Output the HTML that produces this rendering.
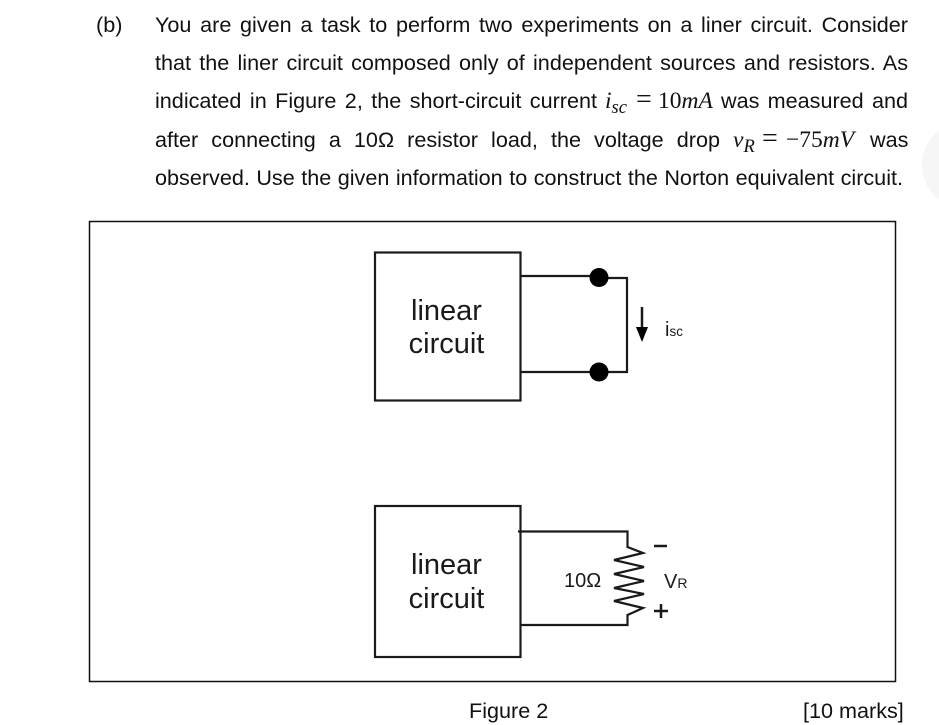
<!DOCTYPE html>
<html><head><meta charset="utf-8"><style>
html,body{margin:0;padding:0;background:#fff}
body{width:939px;height:725px;position:relative;overflow:hidden;font-family:"Liberation Sans",sans-serif;color:#111}
.t{position:absolute;font-size:21.6px;line-height:28px;white-space:nowrap}
.j{white-space:normal;text-align:justify;text-align-last:justify}
.m{font-family:"Liberation Serif",serif;font-style:italic;font-size:23.500px}
.e{font-family:"Liberation Serif",serif;font-size:28px}
svg{position:absolute;left:0;top:0}
svg text{font-family:"Liberation Sans",sans-serif;fill:#1a1a1a}
</style></head><body>
<svg width="939" height="725" viewBox="0 0 939 725">
<circle cx="966" cy="165" r="44" fill="#f6f6f6"/>
<rect x="89.5" y="221.5" width="806" height="460" fill="none" stroke="#111" stroke-width="1.5"/>
<g fill="none" stroke="#1a1a1a" stroke-width="2.2">
<rect x="375" y="252.5" width="145.500" height="148"/>
<path d="M520 276H599V278H627V372H520"/>
<rect x="375" y="506" width="145.500" height="151"/>
<path d="M518 531.500H627.500V547L643 553L614 560L644 567L614 574L644 581L614 588L644 594L614 601L643 608L627.500 615V625H520"/>
<path d="M642 307V330" stroke-width="2.500"/>
<path d="M654 546H667" stroke-width="2.500"/>
<path d="M654 611H668M661 604V618" stroke-width="2.500"/>
</g>
<circle cx="599" cy="277.500" r="9.500" fill="#000"/>
<circle cx="599" cy="372" r="9.500" fill="#000"/>
<path d="M636 327H648L642 342Z" fill="#000"/>
<text x="446.500" y="320" font-size="29" text-anchor="middle">linear</text>
<text x="446.500" y="353" font-size="29" text-anchor="middle">circuit</text>
<text x="446.500" y="574" font-size="29" text-anchor="middle">linear</text>
<text x="446.500" y="608" font-size="29" text-anchor="middle">circuit</text>
<text x="665" y="336" font-size="20">i<tspan font-size="13.500">sc</tspan></text>
<text x="564" y="587" font-size="20">10Ω</text>
<text x="664" y="588" font-size="20">V<tspan font-size="14">R</tspan></text>
</svg>
<div class="t" style="left:96px;top:11px">(b)</div>
<div class="t j" style="left:155px;top:11px;width:753px">You are given a task to perform two experiments on a liner circuit. Consider</div>
<div class="t j" style="left:155px;top:49px;width:753px">that the liner circuit composed only of independent sources and resistors. As</div>
<div class="t j" style="left:155px;top:87px;width:442px">indicated in Figure 2, the short-circuit current</div>
<div class="t m" style="left:605px;top:87px">i<sub style="font-size:18.500px;line-height:0;vertical-align:-5px">sc</sub></div>
<div class="t e" style="left:636px;top:86px">=</div>
<div class="t m" style="left:658px;top:87px"><span style="font-style:normal">10</span>mA</div>
<div class="t j" style="left:721px;top:87px;width:187px">was measured and</div>
<div class="t j" style="left:155px;top:126px;width:565px">after connecting a 10Ω resistor load, the voltage drop</div>
<div class="t m" style="left:733px;top:126px">v<sub style="font-size:18.500px;line-height:0;vertical-align:-5px">R</sub></div>
<div class="t e" style="left:762px;top:125px">=</div>
<div class="t m" style="left:786px;top:126px"><span style="font-style:normal">−75</span>mV</div>
<div class="t" style="left:870px;top:126px">was</div>
<div class="t j" style="left:155px;top:164px;width:748px">observed. Use the given information to construct the Norton equivalent circuit.</div>
<div class="t" style="left:469px;top:697px">Figure 2</div>
<div class="t" style="left:803px;top:697px">[10 marks]</div>
</body></html>
